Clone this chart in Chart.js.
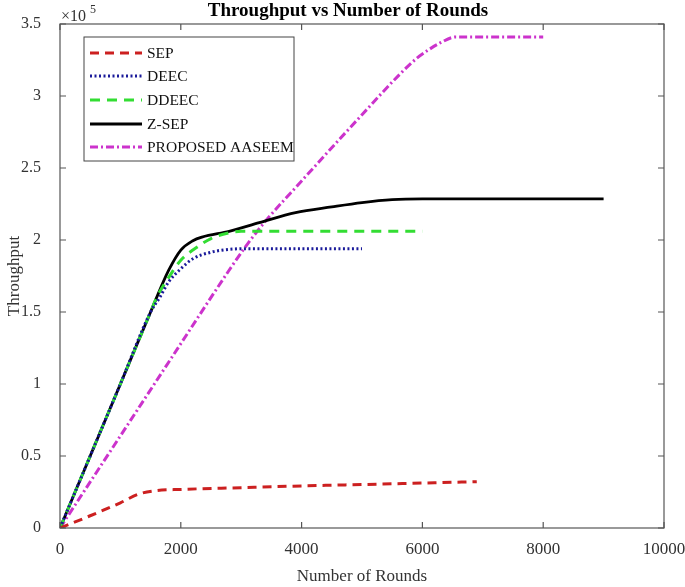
<!DOCTYPE html>
<html>
<head>
<meta charset="utf-8">
<script src="https://cdn.jsdelivr.net/npm/chart.js@4"></script>
<style>
html,body{margin:0;padding:0;background:#fff;}
#wrap{width:685px;height:587px;position:relative;}
</style>
</head>
<body>
<div id="wrap"><canvas id="c" width="685" height="587"></canvas></div>
<script>
// ---- data (throughput values, x = number of rounds) ----
const seriesLabels = ['SEP', 'DEEC', 'DDEEC', 'Z-SEP', 'PROPOSED AASEEM'];

const sepX = [0, 500, 1000, 1300, 1600, 2000, 3000, 4000, 5000, 6000, 6900];
const sepY = [0, 8500, 17500, 23500, 26000, 26800, 28000, 29200, 30200, 31200, 32200];

const deecX = [0, 500, 1000, 1500, 1650, 1800, 2000, 2200, 2500, 2800, 3200, 5000];
const deecY = [0, 50000, 100000, 150000, 160000, 171000, 180000, 187000, 191500, 193500, 194000, 194000];

const ddeecX = [0, 500, 1000, 1500, 1600, 1800, 2000, 2200, 2500, 2800, 3000, 6000];
const ddeecY = [0, 50000, 100000, 150000, 160000, 174000, 186000, 193000, 201000, 205000, 206000, 206000];

const zsepX = [0, 500, 1000, 1500, 1800, 2000, 2200, 2350, 2800, 3300, 3900, 4500, 5000, 5500, 6000, 9000];
const zsepY = [0, 50000, 100000, 150000, 179000, 193000, 199500, 202000, 206000, 212000, 219000, 223000, 226000, 228000, 228500, 228500];

const aaseemX = [0, 1000, 2000, 2800, 3100, 3400, 4000, 5000, 5600, 5900, 6100, 6300, 6550, 8000];
const aaseemY = [0, 64000, 128000, 179000, 197000, 213000, 241000, 287000, 314000, 326000, 332000, 337000, 341000, 341000];

const xTicks = [0, 2000, 4000, 6000, 8000, 10000];
const yTicks = [0, 50000, 100000, 150000, 200000, 250000, 300000, 350000];

const toPts = (xs, ys) => xs.map((x, i) => ({x: x, y: ys[i]}));

const styles = [
  {color: '#cc2020', dash: [9, 6], width: 3},
  {color: '#1a1a9a', dash: [2, 2.5], width: 3},
  {color: '#33dd33', dash: [10, 7], width: 3},
  {color: '#000000', dash: [], width: 2.8},
  {color: '#cc33cc', dash: [8, 3, 2, 3], width: 3}
];
const allData = [toPts(sepX, sepY), toPts(deecX, deecY), toPts(ddeecX, ddeecY), toPts(zsepX, zsepY), toPts(aaseemX, aaseemY)];

const datasets = allData.map((d, i) => ({
  label: seriesLabels[i],
  data: d,
  borderColor: styles[i].color,
  backgroundColor: styles[i].color,
  borderDash: styles[i].dash,
  borderWidth: styles[i].width,
  pointRadius: 0,
  fill: false,
  cubicInterpolationMode: 'monotone',
  borderCapStyle: 'butt'
}));

const FONT = '"Liberation Serif", "Times New Roman", serif';

const decorPlugin = {
  id: 'decor',
  afterDraw(chart) {
    const ctx = chart.ctx;
    const a = chart.chartArea;
    const xs = chart.scales.x, ys = chart.scales.y;
    ctx.save();
    // box
    ctx.strokeStyle = '#555';
    ctx.lineWidth = 1.2;
    ctx.setLineDash([]);
    ctx.strokeRect(a.left, a.top, a.right - a.left, a.bottom - a.top);
    // inward ticks
    const tl = 6;
    ctx.beginPath();
    xTicks.forEach(v => {
      const px = xs.getPixelForValue(v);
      ctx.moveTo(px, a.bottom); ctx.lineTo(px, a.bottom - tl);
      ctx.moveTo(px, a.top); ctx.lineTo(px, a.top + tl);
    });
    yTicks.forEach(v => {
      const py = ys.getPixelForValue(v);
      ctx.moveTo(a.left, py); ctx.lineTo(a.left + tl, py);
      ctx.moveTo(a.right, py); ctx.lineTo(a.right - tl, py);
    });
    ctx.stroke();
    // title
    ctx.fillStyle = '#000';
    ctx.font = 'bold 19px ' + FONT;
    ctx.textAlign = 'center';
    ctx.textBaseline = 'alphabetic';
    ctx.fillText('Throughput vs Number of Rounds', 348, 16);
    // exponent
    ctx.fillStyle = '#333';
    ctx.textAlign = 'left';
    ctx.font = '16px ' + FONT;
    ctx.fillText('\u00d710', a.left + 1, 21);
    const w = ctx.measureText('\u00d710').width;
    ctx.font = '12px ' + FONT;
    ctx.fillText('5', a.left + 5 + w, 13);
    // legend
    const lx = 84, ly = 37, lw = 210, lh = 124;
    ctx.fillStyle = '#fff';
    ctx.fillRect(lx, ly, lw, lh);
    ctx.strokeStyle = '#444';
    ctx.lineWidth = 1;
    ctx.strokeRect(lx, ly, lw, lh);
    const rows = [53, 76, 100, 124, 147];
    chart.data.datasets.forEach((ds, i) => {
      const y = rows[i];
      ctx.beginPath();
      ctx.strokeStyle = ds.borderColor;
      ctx.lineWidth = ds.borderWidth;
      ctx.setLineDash(ds.borderDash);
      ctx.moveTo(90, y); ctx.lineTo(142, y);
      ctx.stroke();
      ctx.setLineDash([]);
      ctx.fillStyle = '#111';
      ctx.font = '15.5px ' + FONT;
      ctx.textBaseline = 'middle';
      ctx.fillText(ds.label, 147, y + 1);
    });
    ctx.restore();
  }
};

new Chart(document.getElementById('c'), {
  type: 'line',
  data: {datasets: datasets},
  options: {
    responsive: false,
    animation: false,
    layout: {padding: {left: 0, right: 21, top: 24, bottom: 0}},
    plugins: {legend: {display: false}, title: {display: false}, tooltip: {enabled: false}},
    scales: {
      x: {
        type: 'linear', min: 0, max: 10000,
        afterBuildTicks: s => { s.ticks = xTicks.map(v => ({value: v})); },
        afterFit: s => { s.height = 59; s.paddingLeft = 0; s.paddingRight = 0; },
        grid: {display: false},
        border: {display: false},
        ticks: {color: '#333', font: {family: FONT, size: 17}, padding: 3, maxRotation: 0, callback: v => String(v)},
        title: {display: true, text: 'Number of Rounds', color: '#333', font: {family: FONT, size: 17}, padding: {top: 0, bottom: 0}}
      },
      y: {
        type: 'linear', min: 0, max: 350000,
        afterBuildTicks: s => { s.ticks = yTicks.map(v => ({value: v})); },
        afterFit: s => { s.width = 60; s.paddingTop = 0; s.paddingBottom = 0; },
        grid: {display: false},
        border: {display: false},
        ticks: {color: '#333', font: {family: FONT, size: 16}, padding: 11, callback: v => String(v / 100000)},
        title: {display: true, text: 'Throughput', color: '#333', font: {family: FONT, size: 17}, padding: {top: 4, bottom: 4}}
      }
    }
  },
  plugins: [decorPlugin]
});
</script>
</body>
</html>
